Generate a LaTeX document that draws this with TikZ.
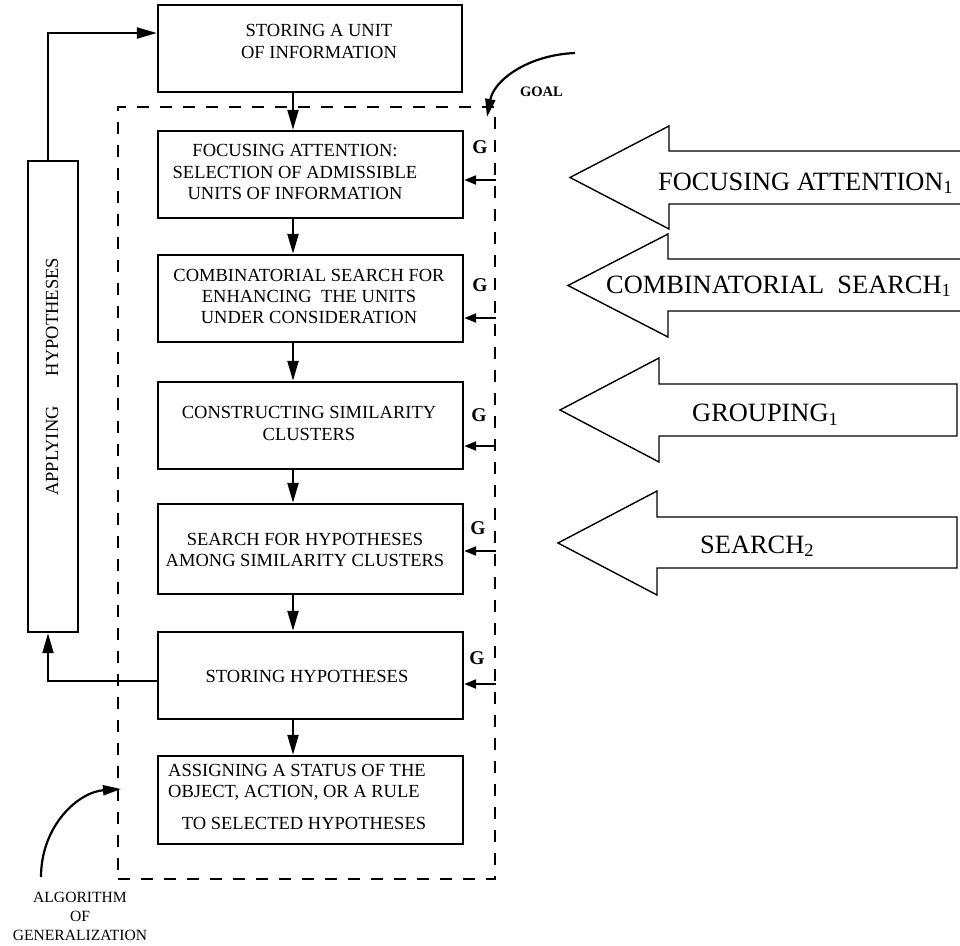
\documentclass[tikz,border=0pt]{standalone}
\usepackage{fontspec}
\setmainfont{Liberation Serif}
\usetikzlibrary{arrows.meta,calc}
\begin{document}
\begin{tikzpicture}[x=1pt,y=-1pt,
  box/.style={draw,line width=2.4pt,minimum width=305pt,minimum height=87pt,inner sep=0pt},
  txt/.style={align=center,font=\fontsize{18.5}{21.3}\selectfont,inner sep=0pt},
  flow/.style={line width=2.2pt,-{Triangle[length=20pt,width=11pt]}},
  garr/.style={line width=2.2pt,-{Triangle[length=12pt,width=9pt]}},
  curv/.style={line width=2.2pt,-{Triangle[length=18pt,width=10pt]}},
  gmark/.style={font=\bfseries\fontsize{19.5}{20}\selectfont,inner sep=0pt},
  bigarrow/.style={draw,line width=1.4pt,line join=miter},
  bigtxt/.style={font=\fontsize{26.4}{30}\selectfont,inner sep=0pt,anchor=base west},
  frame/.style={draw,line width=2.2pt,dash pattern=on 12pt off 11pt,inner sep=0pt}
]
\useasboundingbox (0,0) rectangle (960,945);

% main flow boxes
\node[box,minimum width=304pt] (store) at (310,48.5) {};
\node[box] (b1) at (310.5,174.5) {};
\node[box] (b2) at (310.5,298.5) {};
\node[box] (b3) at (310.5,425.5) {};
\node[box,minimum height=90pt] (b4) at (310.5,549) {};
\node[box] (b5) at (310.5,675.5) {};
\node[box,minimum height=88pt] (b6) at (310.5,800) {};
\node[box,minimum width=50pt,minimum height=471pt] (apply) at (53,396.5) {};

% dashed frame of the generalization algorithm
\node[frame,minimum width=377pt,minimum height=772pt] (alg) at (306.5,493) {};

% box texts
\node[txt] (t0) at (319,41.5) {STORING A UNIT\\OF INFORMATION};
\node[txt] (t1) at (295,172) {FOCUSING ATTENTION:\\SELECTION OF ADMISSIBLE\\UNITS OF INFORMATION};
\node[txt] (t2) at (309,296.5) {COMBINATORIAL SEARCH FOR\\ENHANCING\ \ THE UNITS\\UNDER CONSIDERATION};
\node[txt] (t3) at (309,423.5) {CONSTRUCTING SIMILARITY\\CLUSTERS};
\node[txt] (t4) at (305,550) {SEARCH FOR HYPOTHESES\\AMONG SIMILARITY CLUSTERS};
\node[txt] (t5) at (307,676) {STORING HYPOTHESES};
\node[txt,align=left,anchor=west] (t6a) at (168,782.5) {ASSIGNING A STATUS OF THE\\OBJECT, ACTION, OR A RULE};
\node[txt] (t6b) at (304,823) {TO SELECTED HYPOTHESES};
\node[txt,rotate=90] (ta) at (52,451) {APPLYING};
\node[txt,rotate=90] (th) at (52,317) {HYPOTHESES};

% vertical flow arrows
\coordinate (ax) at (293,0);
\draw[flow] (store.south -| ax) -- (b1.north -| ax);
\draw[flow] (b1.south -| ax) -- (b2.north -| ax);
\draw[flow] (b2.south -| ax) -- (b3.north -| ax);
\draw[flow] (b3.south -| ax) -- (b4.north -| ax);
\draw[flow] (b4.south -| ax) -- (b5.north -| ax);
\draw[flow] (b5.south -| ax) -- (b6.north -| ax);

% feedback loop through applying hypotheses
\coordinate (lx) at (48,0);
\coordinate (r5) at (0,681);
\coordinate (r0) at (0,33);
\draw[flow] (b5.west |- r5) -| (apply.south -| lx);
\draw[flow] (apply.north -| lx) |- (store.west |- r0);

% goal inputs
\node[gmark] (g1) at (480,147) {G};
\node[gmark] (g2) at (480,285) {G};
\node[gmark] (g3) at (479,415) {G};
\node[gmark] (g4) at (478,528) {G};
\node[gmark] (g5) at (477,658) {G};
\coordinate (c1) at (0,180);
\coordinate (c2) at (0,318);
\coordinate (c3) at (0,446);
\coordinate (c4) at (0,551);
\coordinate (c5) at (0,684);
\draw[garr] (alg.east |- c1) -- (b1.east |- c1);
\draw[garr] (alg.east |- c2) -- (b2.east |- c2);
\draw[garr] (alg.east |- c3) -- (b3.east |- c3);
\draw[garr] (alg.east |- c4) -- (b4.east |- c4);
\draw[garr] (alg.east |- c5) -- (b5.east |- c5);

% GOAL pointer
\node[font=\bfseries\fontsize{14.5}{16}\selectfont,inner sep=0pt] (goal) at (541.5,92) {GOAL};
\coordinate (gs) at (575,53);
\coordinate (ge) at (487,117);
\draw[curv] (gs) .. controls (528,55) and (494,80) .. (ge);

% algorithm label and pointer
\node[align=center,font=\fontsize{15.6}{19}\selectfont,inner sep=0pt] (algtxt) at (80,916) {ALGORITHM\\OF\\GENERALIZATION};
\coordinate (as) at (41,877);
\coordinate (ae) at (121,789);
\draw[curv] (as) .. controls (41,826) and (78,792) .. (ae);

% block arrows of the procedures
\draw[bigarrow] (960,151) -- (669,151) -- (669,126) -- (570,177.5) -- (669,229) -- (669,204) -- (960,204);
\draw[bigarrow] (960,259) -- (668,259) -- (668,234) -- (568,285.5) -- (668,337) -- (668,311) -- (960,311);
\draw[bigarrow] (957,384) -- (659,384) -- (659,358) -- (560,410) -- (659,462) -- (659,436) -- (957,436) -- cycle;
\draw[bigarrow] (957,517) -- (657,517) -- (657,491) -- (558,543) -- (657,595) -- (657,568) -- (957,568) -- cycle;
\node[bigtxt] (fa) at (658,190) {FOCUSING ATTENTION\textsubscript{1}};
\node[bigtxt] (cs) at (606,293) {COMBINATORIAL\ \ SEARCH\textsubscript{1}};
\node[bigtxt] (gr) at (692,421.7) {GROUPING\textsubscript{1}};
\node[bigtxt] (s2) at (700,553) {SEARCH\textsubscript{2}};
\end{tikzpicture}
\end{document}
